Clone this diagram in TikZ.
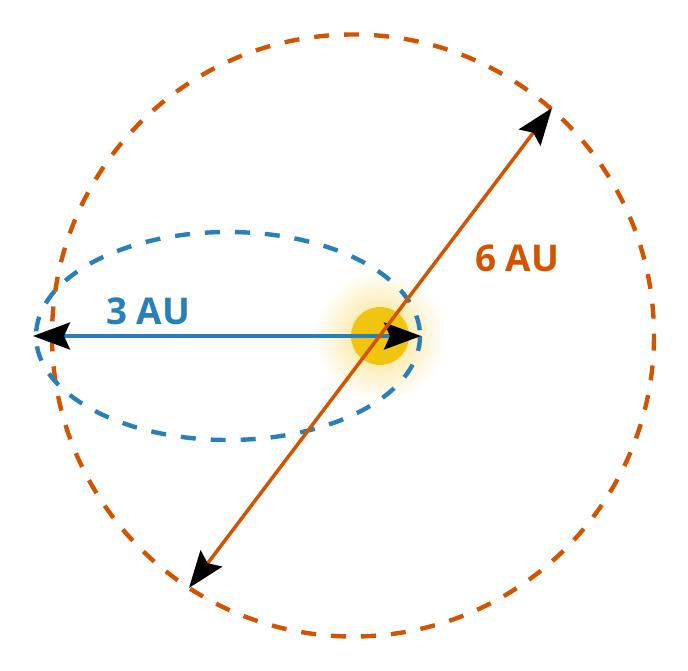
\documentclass[tikz,border=0pt]{standalone}
\usepackage{fontspec}
\setmainfont{Open Sans}
\usepackage{xcolor}
\usetikzlibrary{arrows.meta}

\definecolor{orbitorange}{HTML}{D35400}
\definecolor{orbitblue}{HTML}{2980B9}
\definecolor{sunyellow}{HTML}{F1C40F}

\begin{document}
\begin{tikzpicture}[x=0.02cm, y=-0.02cm]

% Define styles
\tikzstyle{orbit} = [line width=2.5pt, dash pattern=on 0.3cm off 0.3cm]
\tikzstyle{span} = [line width=2pt, {Stealth[black, length=0.74cm, width=0.54cm, inset=0.12cm]}-{Stealth[black, length=0.74cm, width=0.54cm, inset=0.12cm]}]
\tikzstyle{aulabel} = [font=\fontsize{21}{24}\selectfont\bfseries]

\useasboundingbox (0,0) rectangle (688,671);

% Sun with its glow
\shade[inner color=sunyellow!55, outer color=white] (380,336) circle (66);
\node[circle, fill=sunyellow, minimum size=1.16cm, inner sep=0pt] (sun) at (380,336) {};

% Orbits
\draw[orbit, orbitorange] (353,335.5) circle (301);
\draw[orbit, orbitblue] (228,336) ellipse [x radius=192, y radius=104];

% Arrow end points
\coordinate (bl) at (33,336);
\coordinate (br) at (421,336);
\coordinate (ol) at (189,588);
\coordinate (or) at (552,108);

% Distances
\draw[span, orbitblue] (bl) -- (br);
\draw[span, orbitorange] (ol) -- (or);

% Labels
\node[aulabel, text=orbitblue] (three) at (148,311) {3 AU};
\node[aulabel, text=orbitorange] (six) at (517,258) {6 AU};

\end{tikzpicture}
\end{document}
